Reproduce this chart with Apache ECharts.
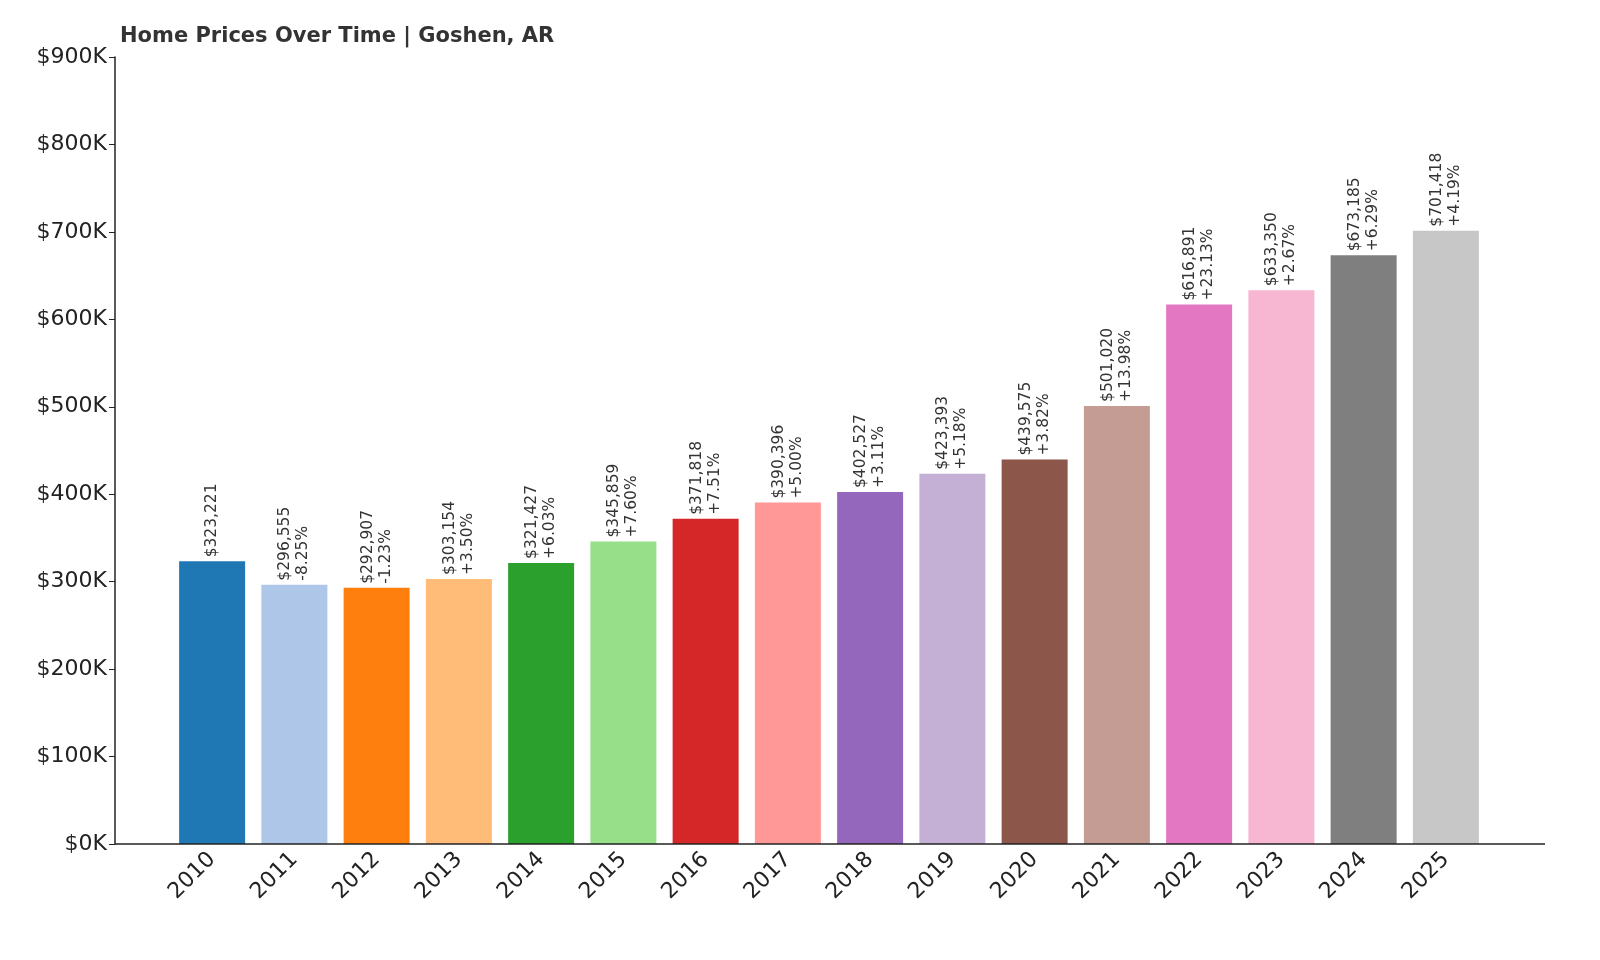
<!DOCTYPE html>
<html><head><meta charset="utf-8">
<script src="https://cdn.jsdelivr.net/npm/echarts@6/dist/echarts.min.js"></script>
<style>html,body{margin:0;padding:0;background:#fff}#c{width:1600px;height:960px}</style>
</head><body><div id="c"></div>
<script>
const years=['2010','2011','2012','2013','2014','2015','2016','2017','2018','2019','2020','2021','2022','2023','2024','2025'];
const prices=[323221,296555,292907,303154,321427,345859,371818,390396,402527,423393,439575,501020,616891,633350,673185,701418];
const changes=[null,'-8.25%','-1.23%','+3.50%','+6.03%','+7.60%','+7.51%','+5.00%','+3.11%','+5.18%','+3.82%','+13.98%','+23.13%','+2.67%','+6.29%','+4.19%'];
const colors=['#1f77b4','#aec7e8','#ff7f0e','#ffbb78','#2ca02c','#98df8a','#d62728','#ff9896','#9467bd','#c5b0d5','#8c564b','#c49c94','#e377c2','#f7b6d2','#7f7f7f','#c7c7c7'];
const yTicks=[0,100000,200000,300000,400000,500000,600000,700000,800000,900000];
const font='DejaVu Sans';
const chart=echarts.init(document.getElementById('c'));
chart.setOption({
  animation:false,
  textStyle:{fontFamily:font},
  title:{text:'Home Prices Over Time | Goshen, AR',left:115,top:21,textStyle:{fontFamily:font,fontSize:21,fontWeight:'bold',color:'#333'}},
  grid:{left:171,right:113,top:57,bottom:116},
  xAxis:{type:'category',data:years,axisLine:{show:false},
    axisTick:{show:true,inside:true,length:5,alignWithLabel:true,lineStyle:{color:'#222'}},
    axisLabel:{rotate:45,fontSize:22,color:'#222',fontFamily:font,margin:12}},
  yAxis:{type:'value',min:0,max:yTicks[yTicks.length-1],interval:100000,offset:56,
    splitLine:{show:false},
    axisLine:{show:true,lineStyle:{color:'#222',width:1.5}},
    axisTick:{show:true,length:6,lineStyle:{color:'#222'}},
    axisLabel:{fontSize:22,color:'#222',fontFamily:font,margin:8,formatter:v=>'$'+(v/1000)+'K'}},
  series:[{type:'bar',barWidth:66,
    data:prices.map((v,i)=>({value:v,itemStyle:{color:colors[i]}})),
    label:{show:true,position:'top',rotate:90,align:'left',verticalAlign:'middle',distance:4,
      fontSize:15.5,color:'#333',fontFamily:font,lineHeight:18,
      formatter:p=>'$'+p.value.toLocaleString('en-US')+(changes[p.dataIndex]?'\n'+changes[p.dataIndex]:'')}}],
  graphic:[{type:'line',shape:{x1:115,y1:844,x2:1545,y2:844},style:{stroke:'#222',lineWidth:1.5},z:100}]
});
</script></body></html>
